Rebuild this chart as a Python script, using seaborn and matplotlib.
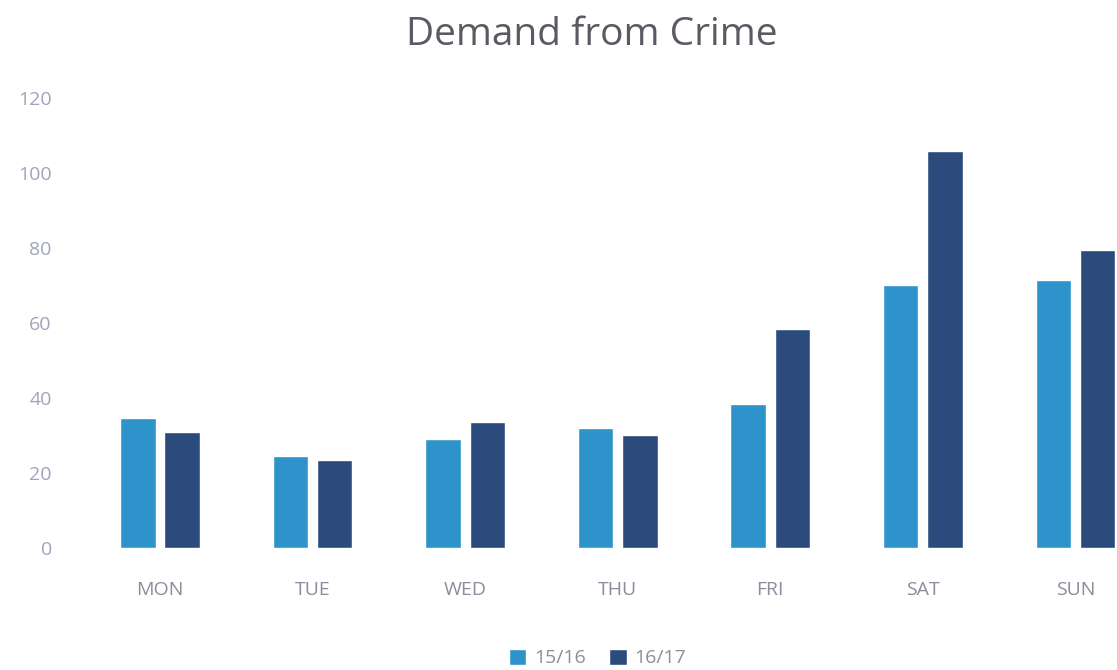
"""Demand from Crime 柱状图"""
import matplotlib
matplotlib.use('Agg')
import matplotlib.pyplot as plt
from matplotlib.patches import Patch
import pandas as pd
import seaborn as sns

# 数据
days = ['MON', 'TUE', 'WED', 'THU', 'FRI', 'SAT', 'SUN']
seasons = ['15/16', '16/17']
demand_1516 = [34.6, 24.5, 29.2, 32.1, 38.3, 70.1, 71.5]
demand_1617 = [30.8, 23.5, 33.7, 30.1, 58.4, 105.9, 79.5]
y_ticks = [0, 20, 40, 60, 80, 100, 120]

colors = ['#2F93CB', '#2C4B7D']


def main():
    df = pd.DataFrame({
        'day': days * 2,
        'season': [seasons[0]] * len(days) + [seasons[1]] * len(days),
        'demand': demand_1516 + demand_1617,
    })

    sns.set_theme(style='white')
    plt.rcParams['font.family'] = ['Open Sans', 'DejaVu Sans']

    fig = plt.figure(figsize=(11.17, 6.70), dpi=100)
    ax = fig.add_axes([0.075, 0.182, 0.956, 0.672])

    sns.barplot(data=df, x='day', y='demand', hue='season', hue_order=seasons,
                palette=colors, width=0.58, gap=0.2, saturation=1,
                legend=False, ax=ax)

    ax.set_xlim(-0.5, 6.5)
    ax.set_ylim(0, 120)
    ax.set_yticks(y_ticks)
    ax.set_xlabel('')
    ax.set_ylabel('')
    sns.despine(ax=ax, left=True, bottom=True)
    ax.tick_params(axis='y', length=0, pad=23, labelsize=14, labelcolor='#A0A3BC')
    ax.tick_params(axis='x', length=0, pad=24, labelsize=14, labelcolor='#8C8C9C')

    # 标题
    fig.text(0.53, 0.948, 'Demand from Crime', ha='center', va='center',
             fontsize=28, color='#5A5A62')

    # 图例放在底部
    handles = [Patch(facecolor=c) for c in colors]
    fig.legend(handles, seasons, loc='center', bbox_to_anchor=(0.535, 0.018),
               ncol=2, frameon=False, fontsize=14, handlelength=0.9,
               handleheight=0.9, handletextpad=0.4, columnspacing=1.2,
               labelcolor='#8C8C9C')

    fig.savefig('out.png', dpi=100)
    plt.close(fig)


if __name__ == '__main__':
    main()
